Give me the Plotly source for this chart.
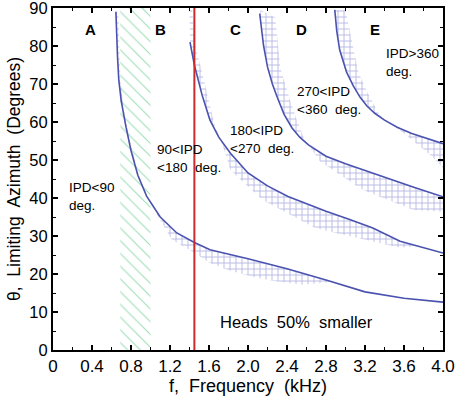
import plotly.graph_objects as go

# ---- data ----
# limiting-azimuth curves: frequency (kHz) and theta (deg)
ipd90_f = [0.645, 0.652, 0.662, 0.675, 0.70, 0.75, 0.80, 0.87, 0.96, 1.10, 1.27, 1.45, 1.61, 2.0, 2.4, 2.8, 3.2, 3.6, 4.0]
ipd90_t = [89.0, 83.0, 77.0, 71.0, 65.5, 58.5, 52.5, 46.0, 40.5, 35.0, 30.8, 28.3, 26.4, 24.0, 21.4, 18.4, 15.3, 13.6, 12.6]

ipd180_f = [1.405, 1.45, 1.53, 1.61, 1.70, 1.82, 2.0, 2.2, 2.41, 2.8, 3.05, 3.28, 3.56, 4.0]
ipd180_t = [81.0, 75.0, 67.0, 60.5, 56.0, 51.8, 46.6, 43.2, 40.4, 36.5, 34.3, 32.1, 28.6, 25.5]

ipd270_f = [2.12, 2.14, 2.16, 2.20, 2.25, 2.30, 2.37, 2.45, 2.53, 2.62, 2.80, 3.00, 3.20, 3.40, 3.70, 4.0]
ipd270_t = [88.5, 84.0, 80.0, 74.5, 70.0, 66.5, 62.0, 58.5, 56.0, 54.0, 51.0, 49.0, 47.2, 45.3, 42.8, 40.3]

ipd360_f = [2.89, 2.91, 2.94, 3.01, 3.08, 3.15, 3.22, 3.30, 3.40, 3.53, 3.68, 3.85, 4.0]
ipd360_t = [89.5, 84.0, 79.0, 73.2, 69.5, 66.5, 64.2, 62.3, 60.5, 58.6, 57.0, 55.6, 54.3]

# outer edges of the cross-hatched bands (traced back from the end of each curve)
band90_f = [2.85, 2.56, 2.30, 2.09, 1.80, 1.60, 1.45, 1.22, 1.00, 0.88, 0.78, 0.72, 0.69, 0.68, 0.67]
band90_t = [17.9, 17.2, 18.0, 19.0, 21.0, 23.0, 25.6, 29.0, 38.5, 46.0, 56.0, 64.0, 72.0, 80.0, 89.0]

band180_f = [3.75, 3.56, 2.77, 2.67, 2.15, 1.82, 1.75, 1.65, 1.58, 1.52, 1.45, 1.43, 1.40]
band180_t = [27.4, 26.9, 31.6, 32.4, 39.5, 47.4, 53.0, 60.0, 68.0, 74.0, 81.0, 89.5, 89.5]

band270_f = [4.0, 4.0, 3.69, 3.18, 2.74, 2.58, 2.50, 2.43, 2.33, 2.28, 2.13]
band270_t = [40.3, 36.4, 36.9, 42.1, 49.6, 55.3, 60.5, 65.8, 74.4, 87.5, 89.5]

band360_f = [4.0, 4.0, 3.87, 3.66, 3.35, 3.22, 3.13, 3.06, 3.0, 2.89]
band360_t = [54.3, 47.9, 51.3, 55.8, 61.8, 68.0, 73.2, 82.0, 89.5, 89.5]

# ambiguous (green) frequency zone and reference frequency
green_f = [0.69, 1.0]
green_t = [0, 90]
ref_f = 1.45

region_labels = ["A", "B", "C", "D", "E"]
region_label_f = [0.38, 1.10, 1.87, 2.55, 3.30]
region_label_t = 84.3

ipd_texts = ["IPD&lt;90<br>deg.", "90&lt;IPD<br>&lt;180&nbsp; deg.", "180&lt;IPD<br>&lt;270&nbsp; deg.",
             "270&lt;IPD<br>&lt;360&nbsp; deg.", "IPD&gt;360<br>deg."]
ipd_text_f = [0.145, 1.045, 1.795, 2.485, 3.395]
ipd_text_t = [40.3, 50.3, 55.5, 65.6, 75.6]

x_ticks = [0, 0.4, 0.8, 1.2, 1.6, 2.0, 2.4, 2.8, 3.2, 3.6, 4.0]
x_ticktext = ["0", "0.4", "0.8", "1.2", "1.6", "2.0", "2.4", "2.8", "3.2", "3.6", "4.0"]

x_title = "f,&nbsp; Frequency&nbsp; (kHz)"
y_title = "θ,&nbsp; Limiting&nbsp; Azimuth&nbsp; (Degrees)"

# ---- figure ----
CURVE = "#4a52b0"
HATCH = "rgba(95,95,195,0.9)"
FONT = "Liberation Sans, Arial, sans-serif"

fig = go.Figure()

# green hatched zone
fig.add_trace(go.Scatter(
    x=[green_f[0], green_f[1], green_f[1], green_f[0], green_f[0]],
    y=[green_t[0], green_t[0], green_t[1], green_t[1], green_t[0]],
    mode="lines", line=dict(width=0), fill="toself",
    fillcolor="rgba(255,255,255,0)",
    fillpattern=dict(shape="\\", fgcolor="#3dbd6c", bgcolor="rgba(255,255,255,0)",
                     size=9, solidity=0.12),
    hoverinfo="skip", showlegend=False))

# cross-hatched bands
for cf, ct, bf, bt in [(ipd90_f, ipd90_t, band90_f, band90_t),
                       (ipd180_f, ipd180_t, band180_f, band180_t),
                       (ipd270_f, ipd270_t, band270_f, band270_t),
                       (ipd360_f, ipd360_t, band360_f, band360_t)]:
    xs = [f for f in cf if f <= bf[0]] + bf
    ys = [t for f, t in zip(cf, ct) if f <= bf[0]] + bt
    fig.add_trace(go.Scatter(
        x=xs, y=ys, mode="lines", line=dict(width=0), fill="toself",
        fillcolor="rgba(255,255,255,0)",
        fillpattern=dict(shape="+", fgcolor=HATCH, bgcolor="rgba(255,255,255,0)",
                         size=6, solidity=0.28),
        hoverinfo="skip", showlegend=False))

# curves
for cf, ct in [(ipd90_f, ipd90_t), (ipd180_f, ipd180_t),
               (ipd270_f, ipd270_t), (ipd360_f, ipd360_t)]:
    fig.add_trace(go.Scatter(x=cf, y=ct, mode="lines",
                             line=dict(color=CURVE, width=1.6),
                             showlegend=False))

# red reference line
fig.add_trace(go.Scatter(x=[ref_f, ref_f], y=[0, 90], mode="lines",
                         line=dict(color="#cc2b2b", width=2), showlegend=False))

annotations = []
for lab, f in zip(region_labels, region_label_f):
    annotations.append(dict(x=f, y=region_label_t, text="<b>%s</b>" % lab, showarrow=False,
                            xanchor="center", yanchor="middle",
                            font=dict(size=15, color="black", family=FONT)))
for txt, f, t in zip(ipd_texts, ipd_text_f, ipd_text_t):
    annotations.append(dict(x=f, y=t, text=txt, showarrow=False, xanchor="left",
                            yanchor="middle", align="left",
                            font=dict(size=13.5, color="black", family=FONT)))
annotations.append(dict(x=2.5, y=7.5, text="Heads&nbsp; 50%&nbsp; smaller", showarrow=False,
                        xanchor="center", yanchor="middle",
                        font=dict(size=16.5, color="black", family=FONT)))
# axis titles placed as paper-referenced annotations
annotations.append(dict(xref="paper", yref="paper", x=0.5, y=-24 / 342, text=x_title,
                        showarrow=False, xanchor="center", yanchor="top",
                        font=dict(size=18, color="black", family=FONT)))
annotations.append(dict(xref="paper", yref="paper", x=-39 / 390, y=0.5, text=y_title,
                        textangle=-90, showarrow=False, xanchor="center", yanchor="middle",
                        font=dict(size=17.5, color="black", family=FONT)))

axis_common = dict(showline=True, linecolor="black", linewidth=2, mirror="ticks",
                   ticks="inside", ticklen=5, tickwidth=1.5, tickcolor="black",
                   showgrid=False, zeroline=False, automargin=False,
                   ticklabeloverflow="allow")

fig.update_layout(
    width=455, height=396,
    margin=dict(l=53, r=12, t=8, b=46, autoexpand=False),
    plot_bgcolor="white", paper_bgcolor="white",
    annotations=annotations,
    xaxis=dict(range=[0, 4.0], tickvals=x_ticks, ticktext=x_ticktext,
               tickfont=dict(size=17, color="black", family=FONT),
               minor=dict(dtick=0.2, ticks="inside", ticklen=3, tickcolor="black", tickwidth=1.2),
               **axis_common),
    yaxis=dict(range=[0, 90], dtick=10,
               tickfont=dict(size=16.5, color="black", family=FONT),
               minor=dict(dtick=5, ticks="inside", ticklen=3, tickcolor="black", tickwidth=1.2),
               **axis_common),
)

fig.write_html("out.html", config={"displayModeBar": False},
               post_script="document.body.style.margin='0px';")
